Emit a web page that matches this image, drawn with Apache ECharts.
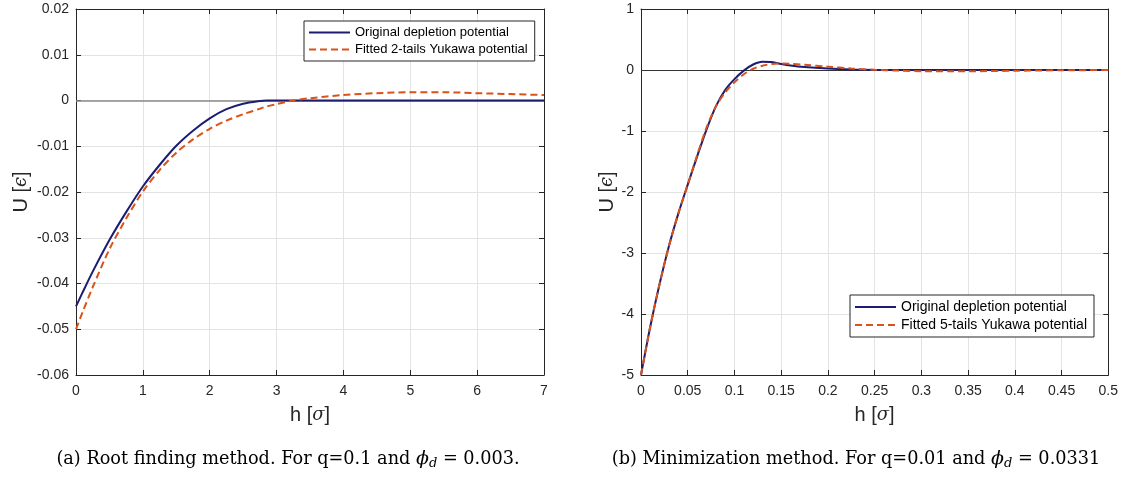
<!DOCTYPE html>
<html>
<head>
<meta charset="utf-8">
<script src="https://cdn.jsdelivr.net/npm/echarts@6/dist/echarts.min.js"></script>
<style>
html,body{margin:0;padding:0;background:#fff;}
#c{width:1121px;height:478px;}
</style>
</head>
<body>
<div id="c"></div>
<script>
// ---------- Panel (a): root finding, q=0.1 ----------
const hA = [0, 0.1, 0.25, 0.5, 0.75, 1.0, 1.25, 1.5, 1.75, 2.0, 2.25, 2.5, 2.75, 2.85, 3.0, 3.25, 3.5, 4.0, 4.5, 5.0, 5.5, 6.0, 6.5, 7.0];
const origA = [-0.0450, -0.0419, -0.0374, -0.0305, -0.0244, -0.0188, -0.0141, -0.0099, -0.0066, -0.0039, -0.0019, -0.0007, -0.0001, 0, 0, 0, 0, 0, 0, 0, 0, 0, 0, 0];
const fitA = [-0.0500, -0.0462, -0.0408, -0.0325, -0.0258, -0.0199, -0.0152, -0.0114, -0.0085, -0.0062, -0.0044, -0.0030, -0.0018, -0.0013, -0.0008, 0.0000, 0.0005, 0.0012, 0.0016, 0.0018, 0.0018, 0.0016, 0.0014, 0.0012];
const xTicksA = [0, 7, 1];          // min, max, interval
const yTicksA = [-0.06, 0.02, 0.01];

// ---------- Panel (b): minimization, q=0.01 ----------
const hB = [0, 0.01, 0.02, 0.03, 0.04, 0.05, 0.06, 0.07, 0.08, 0.09, 0.10, 0.11, 0.12, 0.13, 0.14, 0.15, 0.16, 0.175, 0.2, 0.225, 0.25, 0.275, 0.3, 0.35, 0.4, 0.45, 0.5];
const origB = [-5, -4.2, -3.5, -2.88, -2.35, -1.88, -1.42, -0.98, -0.6, -0.33, -0.15, -0.01, 0.09, 0.135, 0.13, 0.10, 0.075, 0.05, 0.025, 0.01, 0.002, 0, 0, 0, 0, 0, 0];
const fitB = [-5, -4.2, -3.5, -2.88, -2.35, -1.88, -1.40, -0.95, -0.6, -0.37, -0.20, -0.07, 0.02, 0.07, 0.10, 0.105, 0.10, 0.085, 0.055, 0.025, 0.003, -0.01, -0.02, -0.02, -0.012, -0.005, 0];
const xTicksB = [0, 0.5, 0.05];
const yTicksB = [-5, 1, 1];

const legendNames = ['Original depletion potential', 'Fitted 2-tails Yukawa potential', 'Fitted 5-tails Yukawa potential'];
const captionA = '(a) Root finding method. For q=0.1 and {i|ϕ}{sub|d} = 0.003.';
const captionB = '(b) Minimization method. For q=0.01 and {i|ϕ}{sub|d} = 0.0331';

const zip = (xs, ys) => xs.map((x, i) => [x, ys[i]]);

const DARK = '#262626';
const NAVY = '#1c1c72';
const ORANGE = '#D95319';
const SANS = '"Liberation Sans", Arial, sans-serif';
const SERIF = '"DejaVu Serif", serif';

const nameStyle = { color: DARK, fontFamily: SANS, fontSize: 20,
  rich: { i: { fontFamily: SERIF, fontStyle: 'italic', fontSize: 18, color: DARK } } };

function xAx(gridIndex, t, main, name) {
  return {
    type: 'value', gridIndex, min: t[0], max: t[1], interval: t[2],
    position: main ? 'bottom' : 'top',
    axisLine: { show: true, onZero: false, lineStyle: { color: DARK, width: 1 } },
    axisTick: { show: true, inside: true, length: 5, lineStyle: { color: DARK } },
    axisLabel: { show: main, color: DARK, fontFamily: SANS, fontSize: 14, margin: 9 },
    splitLine: { show: main, lineStyle: { color: '#e3e3e3', width: 1 } },
    name: main ? name : '', nameLocation: 'middle', nameGap: 30,
    nameTextStyle: nameStyle
  };
}
function yAx(gridIndex, t, main, name, gap) {
  return {
    type: 'value', gridIndex, min: t[0], max: t[1], interval: t[2],
    position: main ? 'left' : 'right',
    axisLine: { show: true, onZero: false, lineStyle: { color: DARK, width: 1 } },
    axisTick: { show: true, inside: true, length: 5, lineStyle: { color: DARK } },
    axisLabel: { show: main, color: DARK, fontFamily: SANS, fontSize: 14, margin: 7 },
    splitLine: { show: main, lineStyle: { color: '#e3e3e3', width: 1 } },
    name: main ? name : '', nameLocation: 'middle', nameGap: gap,
    nameTextStyle: nameStyle
  };
}

function lineSeries(name, data, xi, yi, color, dashed, zeroLine) {
  const s = {
    name, type: 'line', data, xAxisIndex: xi, yAxisIndex: yi,
    symbol: 'none', showSymbol: false, smooth: 0.3,
    lineStyle: { color, width: 2, type: dashed ? [7, 4] : 'solid' },
    itemStyle: { color },
    z: dashed ? 4 : 3
  };
  if (zeroLine) {
    s.markLine = {
      silent: true, symbol: 'none', label: { show: false },
      lineStyle: zeroLine, data: [{ yAxis: 0 }], z: 1
    };
  }
  return s;
}

function legend(names, left, top, fontSize) {
  return {
    data: names, left, top, orient: 'vertical',
    itemWidth: 41, itemHeight: 14, itemGap: 4,
    padding: [5, 7, 5, 4],
    borderColor: DARK, borderWidth: 1, backgroundColor: '#fff',
    itemStyle: { opacity: 0, color: 'rgba(0,0,0,0)', borderWidth: 0 },
    textStyle: { color: '#000', fontFamily: SANS, fontSize },
    selectedMode: false
  };
}

const capRich = {
  i: { fontFamily: SERIF, fontStyle: 'italic', fontSize: 19, color: '#000' },
  sub: { fontFamily: SERIF, fontStyle: 'italic', fontSize: 13, color: '#000', padding: [10, 0, 0, 0] }
};

const chart = echarts.init(document.getElementById('c'), null, { renderer: 'canvas' });
chart.setOption({
  animation: false,
  backgroundColor: '#fff',
  grid: [
    { left: 76, top: 9, width: 468, height: 366 },
    { left: 641, top: 9, width: 468, height: 366 }
  ],
  xAxis: [
    xAx(0, xTicksA, true, 'h [{i|σ}]'),
    xAx(0, xTicksA, false),
    xAx(1, xTicksB, true, 'h [{i|σ}]'),
    xAx(1, xTicksB, false)
  ],
  yAxis: [
    yAx(0, yTicksA, true, 'U [{i|ϵ}]', 45),
    yAx(0, yTicksA, false, '', 0),
    yAx(1, yTicksB, true, 'U [{i|ϵ}]', 24),
    yAx(1, yTicksB, false, '', 0)
  ],
  legend: [
    legend([legendNames[0], legendNames[1]], 304, 21, 13),
    legend([legendNames[0], legendNames[2]], 850, 295, 14)
  ],
  series: [
    lineSeries(legendNames[0], zip(hA, origA), 0, 0, NAVY, false, { color: '#8a8a8a', width: 1.5, type: 'solid' }),
    lineSeries(legendNames[1], zip(hA, fitA), 0, 0, ORANGE, true),
    lineSeries(legendNames[0], zip(hB, origB), 2, 2, NAVY, false, { color: '#333', width: 1, type: 'solid' }),
    lineSeries(legendNames[2], zip(hB, fitB), 2, 2, ORANGE, true)
  ],
  graphic: [
    { type: 'text', x: 288, y: 459, style: { text: captionA, rich: capRich, fontFamily: SERIF, fontSize: 17.7, fill: '#000', align: 'center', verticalAlign: 'middle' } },
    { type: 'text', x: 856, y: 459, style: { text: captionB, rich: capRich, fontFamily: SERIF, fontSize: 17.7, fill: '#000', align: 'center', verticalAlign: 'middle' } }
  ]
});
</script>
</body>
</html>
